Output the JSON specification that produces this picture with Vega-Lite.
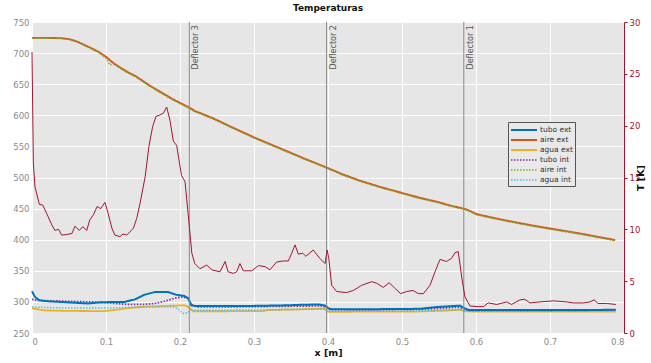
{
  "$schema": "https://vega.github.io/schema/vega-lite/v6.json",
  "width": 592,
  "height": 311,
  "autosize": {"type": "none"},
  "padding": {"left": 32, "top": 22, "right": 27, "bottom": 30},
  "background": "white",
  "config": {
    "font": "DejaVu Sans",
    "view": {"fill": "#e6e6e6", "stroke": null},
    "axis": {"gridColor": "white", "gridWidth": 1, "gridOpacity": 1, "labelColor": "#8a8a8a", "labelFontSize": 8.5, "domain": false, "ticks": false, "labelOverlap": false},
    "legend": {"orient": "none", "legendX": 476, "legendY": 100, "symbolType": "M-2.6,0H2.6", "symbolSize": 100, "labelFontSize": 7.5, "labelColor": "#333", "labelOffset": 10, "fillColor": "#e9e9e9", "strokeColor": "#555", "padding": 2, "rowPadding": -0.3, "symbolStrokeWidth": 1.5, "symbolFillColor": "transparent", "symbolOffset": 8}
  },
  "title": {"text": "Temperaturas", "fontSize": 9, "fontWeight": "bold", "color": "#111", "offset": 5, "anchor": "middle"},
  "datasets": {
    "temps": [
      {"x": 0, "T": 724.5, "s": "aire ext"}, {"x": 0.02, "T": 724.5, "s": "aire ext"}, {"x": 0.04, "T": 724, "s": "aire ext"}, {"x": 0.05, "T": 722.5, "s": "aire ext"}, {"x": 0.06, "T": 719, "s": "aire ext"}, {"x": 0.07, "T": 713.5, "s": "aire ext"}, {"x": 0.08, "T": 708, "s": "aire ext"}, {"x": 0.09, "T": 702, "s": "aire ext"}, {"x": 0.1, "T": 694, "s": "aire ext"}, {"x": 0.11, "T": 684, "s": "aire ext"}, {"x": 0.12, "T": 676, "s": "aire ext"}, {"x": 0.13, "T": 669, "s": "aire ext"}, {"x": 0.14, "T": 663, "s": "aire ext"}, {"x": 0.15, "T": 655, "s": "aire ext"}, {"x": 0.16, "T": 647, "s": "aire ext"}, {"x": 0.17, "T": 640, "s": "aire ext"}, {"x": 0.18, "T": 633, "s": "aire ext"}, {"x": 0.19, "T": 626, "s": "aire ext"}, {"x": 0.2, "T": 620, "s": "aire ext"}, {"x": 0.213, "T": 612, "s": "aire ext"}, {"x": 0.22, "T": 607, "s": "aire ext"}, {"x": 0.245, "T": 595, "s": "aire ext"}, {"x": 0.268, "T": 582, "s": "aire ext"}, {"x": 0.3, "T": 564.5, "s": "aire ext"}, {"x": 0.335, "T": 547, "s": "aire ext"}, {"x": 0.367, "T": 531, "s": "aire ext"}, {"x": 0.398, "T": 516, "s": "aire ext"}, {"x": 0.42, "T": 505, "s": "aire ext"}, {"x": 0.443, "T": 495, "s": "aire ext"}, {"x": 0.47, "T": 485, "s": "aire ext"}, {"x": 0.502, "T": 474.5, "s": "aire ext"}, {"x": 0.525, "T": 467, "s": "aire ext"}, {"x": 0.547, "T": 461, "s": "aire ext"}, {"x": 0.565, "T": 455, "s": "aire ext"}, {"x": 0.587, "T": 448.8, "s": "aire ext"}, {"x": 0.601, "T": 441, "s": "aire ext"}, {"x": 0.62, "T": 436, "s": "aire ext"}, {"x": 0.64, "T": 431, "s": "aire ext"}, {"x": 0.673, "T": 423.5, "s": "aire ext"}, {"x": 0.7, "T": 418, "s": "aire ext"}, {"x": 0.7405, "T": 410, "s": "aire ext"}, {"x": 0.765, "T": 404.5, "s": "aire ext"}, {"x": 0.788, "T": 399.5, "s": "aire ext"},
      {"x": 0, "T": 724, "s": "aire int"}, {"x": 0.02, "T": 724, "s": "aire int"}, {"x": 0.04, "T": 723.5, "s": "aire int"}, {"x": 0.05, "T": 722, "s": "aire int"}, {"x": 0.06, "T": 718.5, "s": "aire int"}, {"x": 0.07, "T": 713, "s": "aire int"}, {"x": 0.08, "T": 707, "s": "aire int"}, {"x": 0.09, "T": 701, "s": "aire int"}, {"x": 0.1, "T": 692, "s": "aire int"}, {"x": 0.105, "T": 681, "s": "aire int"}, {"x": 0.11, "T": 683, "s": "aire int"}, {"x": 0.12, "T": 675, "s": "aire int"}, {"x": 0.13, "T": 668, "s": "aire int"}, {"x": 0.14, "T": 662, "s": "aire int"}, {"x": 0.15, "T": 654, "s": "aire int"}, {"x": 0.16, "T": 646, "s": "aire int"}, {"x": 0.17, "T": 639, "s": "aire int"}, {"x": 0.18, "T": 632, "s": "aire int"}, {"x": 0.19, "T": 625, "s": "aire int"}, {"x": 0.2, "T": 619, "s": "aire int"}, {"x": 0.213, "T": 611, "s": "aire int"}, {"x": 0.22, "T": 606, "s": "aire int"}, {"x": 0.245, "T": 594, "s": "aire int"}, {"x": 0.268, "T": 581, "s": "aire int"}, {"x": 0.3, "T": 563.5, "s": "aire int"}, {"x": 0.335, "T": 546, "s": "aire int"}, {"x": 0.367, "T": 530, "s": "aire int"}, {"x": 0.398, "T": 515.5, "s": "aire int"}, {"x": 0.42, "T": 504, "s": "aire int"}, {"x": 0.443, "T": 494, "s": "aire int"}, {"x": 0.47, "T": 484, "s": "aire int"}, {"x": 0.502, "T": 473.5, "s": "aire int"}, {"x": 0.525, "T": 466, "s": "aire int"}, {"x": 0.547, "T": 460, "s": "aire int"}, {"x": 0.565, "T": 454, "s": "aire int"}, {"x": 0.587, "T": 448, "s": "aire int"}, {"x": 0.601, "T": 440, "s": "aire int"}, {"x": 0.62, "T": 435, "s": "aire int"}, {"x": 0.64, "T": 430, "s": "aire int"}, {"x": 0.673, "T": 422.5, "s": "aire int"}, {"x": 0.7, "T": 417, "s": "aire int"}, {"x": 0.7405, "T": 409, "s": "aire int"}, {"x": 0.765, "T": 403.5, "s": "aire int"}, {"x": 0.788, "T": 398.5, "s": "aire int"},
      {"x": 0, "T": 289.5, "s": "agua ext"}, {"x": 0.017, "T": 286.4, "s": "agua ext"}, {"x": 0.05, "T": 285.5, "s": "agua ext"}, {"x": 0.098, "T": 285.2, "s": "agua ext"}, {"x": 0.115, "T": 287.5, "s": "agua ext"}, {"x": 0.13, "T": 290, "s": "agua ext"}, {"x": 0.15, "T": 292, "s": "agua ext"}, {"x": 0.175, "T": 293.4, "s": "agua ext"}, {"x": 0.206, "T": 294.5, "s": "agua ext"}, {"x": 0.211, "T": 292, "s": "agua ext"}, {"x": 0.2176, "T": 285, "s": "agua ext"}, {"x": 0.265, "T": 285, "s": "agua ext"}, {"x": 0.312, "T": 285.2, "s": "agua ext"}, {"x": 0.32, "T": 287, "s": "agua ext"}, {"x": 0.36, "T": 288, "s": "agua ext"}, {"x": 0.389, "T": 289, "s": "agua ext"}, {"x": 0.396, "T": 289, "s": "agua ext"}, {"x": 0.4, "T": 284, "s": "agua ext"}, {"x": 0.45, "T": 284.3, "s": "agua ext"}, {"x": 0.52, "T": 284.5, "s": "agua ext"}, {"x": 0.56, "T": 286, "s": "agua ext"}, {"x": 0.578, "T": 287.5, "s": "agua ext"}, {"x": 0.586, "T": 285, "s": "agua ext"}, {"x": 0.6, "T": 284.3, "s": "agua ext"}, {"x": 0.7, "T": 284.3, "s": "agua ext"}, {"x": 0.789, "T": 284.5, "s": "agua ext"},
      {"x": 0, "T": 291.8, "s": "agua int"}, {"x": 0.04, "T": 290.2, "s": "agua int"}, {"x": 0.105, "T": 290.2, "s": "agua int"}, {"x": 0.152, "T": 291.8, "s": "agua int"}, {"x": 0.193, "T": 291.8, "s": "agua int"}, {"x": 0.1995, "T": 286.4, "s": "agua int"}, {"x": 0.204, "T": 281.5, "s": "agua int"}, {"x": 0.21, "T": 282.6, "s": "agua int"}, {"x": 0.2153, "T": 286.4, "s": "agua int"}, {"x": 0.226, "T": 286.4, "s": "agua int"}, {"x": 0.3, "T": 287, "s": "agua int"}, {"x": 0.39, "T": 288.5, "s": "agua int"}, {"x": 0.398, "T": 288.5, "s": "agua int"}, {"x": 0.403, "T": 285.5, "s": "agua int"}, {"x": 0.5, "T": 285.5, "s": "agua int"}, {"x": 0.57, "T": 287.5, "s": "agua int"}, {"x": 0.584, "T": 286.5, "s": "agua int"}, {"x": 0.59, "T": 285.5, "s": "agua int"}, {"x": 0.7, "T": 285.5, "s": "agua int"}, {"x": 0.789, "T": 286, "s": "agua int"},
      {"x": 0, "T": 304, "s": "tubo int"}, {"x": 0.008, "T": 302.5, "s": "tubo int"}, {"x": 0.04, "T": 301.3, "s": "tubo int"}, {"x": 0.085, "T": 299.8, "s": "tubo int"}, {"x": 0.13, "T": 296, "s": "tubo int"}, {"x": 0.15, "T": 296, "s": "tubo int"}, {"x": 0.166, "T": 297.5, "s": "tubo int"}, {"x": 0.179, "T": 301, "s": "tubo int"}, {"x": 0.193, "T": 306, "s": "tubo int"}, {"x": 0.204, "T": 308, "s": "tubo int"}, {"x": 0.211, "T": 305.5, "s": "tubo int"}, {"x": 0.2153, "T": 295.5, "s": "tubo int"}, {"x": 0.224, "T": 292, "s": "tubo int"}, {"x": 0.26, "T": 292, "s": "tubo int"}, {"x": 0.3, "T": 292.3, "s": "tubo int"}, {"x": 0.35, "T": 293, "s": "tubo int"}, {"x": 0.39, "T": 293.5, "s": "tubo int"}, {"x": 0.398, "T": 292, "s": "tubo int"}, {"x": 0.403, "T": 288, "s": "tubo int"}, {"x": 0.45, "T": 287.5, "s": "tubo int"}, {"x": 0.5, "T": 287.8, "s": "tubo int"}, {"x": 0.53, "T": 288.5, "s": "tubo int"}, {"x": 0.555, "T": 290, "s": "tubo int"}, {"x": 0.575, "T": 291.5, "s": "tubo int"}, {"x": 0.584, "T": 289, "s": "tubo int"}, {"x": 0.59, "T": 286.5, "s": "tubo int"}, {"x": 0.65, "T": 286.5, "s": "tubo int"}, {"x": 0.7, "T": 286.5, "s": "tubo int"}, {"x": 0.75, "T": 286.5, "s": "tubo int"}, {"x": 0.789, "T": 286.8, "s": "tubo int"},
      {"x": 0, "T": 317, "s": "tubo ext"}, {"x": 0.004, "T": 308, "s": "tubo ext"}, {"x": 0.01, "T": 302.5, "s": "tubo ext"}, {"x": 0.02, "T": 301, "s": "tubo ext"}, {"x": 0.04, "T": 299.8, "s": "tubo ext"}, {"x": 0.06, "T": 298.5, "s": "tubo ext"}, {"x": 0.076, "T": 297.5, "s": "tubo ext"}, {"x": 0.094, "T": 299.5, "s": "tubo ext"}, {"x": 0.11, "T": 299.8, "s": "tubo ext"}, {"x": 0.125, "T": 300, "s": "tubo ext"}, {"x": 0.139, "T": 304, "s": "tubo ext"}, {"x": 0.152, "T": 311.5, "s": "tubo ext"}, {"x": 0.166, "T": 315.8, "s": "tubo ext"}, {"x": 0.176, "T": 316, "s": "tubo ext"}, {"x": 0.184, "T": 315.8, "s": "tubo ext"}, {"x": 0.195, "T": 311.5, "s": "tubo ext"}, {"x": 0.206, "T": 309.5, "s": "tubo ext"}, {"x": 0.211, "T": 306, "s": "tubo ext"}, {"x": 0.2153, "T": 294.5, "s": "tubo ext"}, {"x": 0.22, "T": 293.4, "s": "tubo ext"}, {"x": 0.25, "T": 293.4, "s": "tubo ext"}, {"x": 0.3, "T": 293.6, "s": "tubo ext"}, {"x": 0.344, "T": 294.5, "s": "tubo ext"}, {"x": 0.367, "T": 295.5, "s": "tubo ext"}, {"x": 0.389, "T": 295.8, "s": "tubo ext"}, {"x": 0.396, "T": 294, "s": "tubo ext"}, {"x": 0.401, "T": 289.5, "s": "tubo ext"}, {"x": 0.405, "T": 288.2, "s": "tubo ext"}, {"x": 0.45, "T": 288.3, "s": "tubo ext"}, {"x": 0.5, "T": 288.5, "s": "tubo ext"}, {"x": 0.525, "T": 289, "s": "tubo ext"}, {"x": 0.545, "T": 291.5, "s": "tubo ext"}, {"x": 0.565, "T": 293, "s": "tubo ext"}, {"x": 0.578, "T": 294, "s": "tubo ext"}, {"x": 0.584, "T": 290, "s": "tubo ext"}, {"x": 0.59, "T": 287, "s": "tubo ext"}, {"x": 0.62, "T": 286.8, "s": "tubo ext"}, {"x": 0.65, "T": 287, "s": "tubo ext"}, {"x": 0.7, "T": 286.8, "s": "tubo ext"}, {"x": 0.75, "T": 286.8, "s": "tubo ext"}, {"x": 0.789, "T": 287.5, "s": "tubo ext"}
    ],
    "dT": [
      {"x": 0, "dT": 27.1}, {"x": 0.0018, "dT": 16.4}, {"x": 0.004, "dT": 14.1}, {"x": 0.01, "dT": 12.4}, {"x": 0.0144, "dT": 12.35}, {"x": 0.02, "dT": 11.5}, {"x": 0.027, "dT": 10.4}, {"x": 0.031, "dT": 9.9}, {"x": 0.036, "dT": 10.0}, {"x": 0.04, "dT": 9.45}, {"x": 0.047, "dT": 9.5}, {"x": 0.054, "dT": 9.6}, {"x": 0.058, "dT": 10.3}, {"x": 0.064, "dT": 9.9}, {"x": 0.0685, "dT": 10.25}, {"x": 0.074, "dT": 9.9}, {"x": 0.078, "dT": 10.9}, {"x": 0.083, "dT": 11.4}, {"x": 0.088, "dT": 12.2}, {"x": 0.093, "dT": 12.0}, {"x": 0.0986, "dT": 12.6}, {"x": 0.103, "dT": 11.5}, {"x": 0.108, "dT": 10.1}, {"x": 0.112, "dT": 9.45}, {"x": 0.119, "dT": 9.3}, {"x": 0.123, "dT": 9.55}, {"x": 0.128, "dT": 9.45}, {"x": 0.137, "dT": 10.1}, {"x": 0.1415, "dT": 11.05}, {"x": 0.146, "dT": 12.5}, {"x": 0.153, "dT": 15.1}, {"x": 0.158, "dT": 18.0}, {"x": 0.163, "dT": 19.9}, {"x": 0.1676, "dT": 20.9}, {"x": 0.172, "dT": 21.0}, {"x": 0.1775, "dT": 21.2}, {"x": 0.182, "dT": 21.8}, {"x": 0.1865, "dT": 20.5}, {"x": 0.191, "dT": 18.5}, {"x": 0.1955, "dT": 18.1}, {"x": 0.202, "dT": 15.2}, {"x": 0.2068, "dT": 14.6}, {"x": 0.211, "dT": 11.5}, {"x": 0.216, "dT": 7.7}, {"x": 0.22, "dT": 6.7}, {"x": 0.227, "dT": 6.2}, {"x": 0.236, "dT": 6.55}, {"x": 0.243, "dT": 6.1}, {"x": 0.254, "dT": 5.9}, {"x": 0.261, "dT": 6.9}, {"x": 0.265, "dT": 5.9}, {"x": 0.272, "dT": 5.75}, {"x": 0.2766, "dT": 5.9}, {"x": 0.281, "dT": 6.7}, {"x": 0.2856, "dT": 6.0}, {"x": 0.297, "dT": 6.0}, {"x": 0.306, "dT": 6.5}, {"x": 0.315, "dT": 6.4}, {"x": 0.3216, "dT": 6.1}, {"x": 0.3306, "dT": 6.85}, {"x": 0.3396, "dT": 6.95}, {"x": 0.3464, "dT": 6.95}, {"x": 0.351, "dT": 7.7}, {"x": 0.3554, "dT": 8.5}, {"x": 0.36, "dT": 7.6}, {"x": 0.3658, "dT": 7.7}, {"x": 0.37, "dT": 7.4}, {"x": 0.38, "dT": 8.0}, {"x": 0.389, "dT": 7.2}, {"x": 0.396, "dT": 6.7}, {"x": 0.399, "dT": 8.0}, {"x": 0.401, "dT": 7.2}, {"x": 0.405, "dT": 4.6}, {"x": 0.4118, "dT": 4.0}, {"x": 0.425, "dT": 3.9}, {"x": 0.4342, "dT": 4.1}, {"x": 0.4455, "dT": 4.6}, {"x": 0.459, "dT": 4.95}, {"x": 0.4658, "dT": 4.8}, {"x": 0.4747, "dT": 4.4}, {"x": 0.4828, "dT": 4.85}, {"x": 0.4905, "dT": 4.3}, {"x": 0.4982, "dT": 3.8}, {"x": 0.5063, "dT": 4.0}, {"x": 0.515, "dT": 4.1}, {"x": 0.522, "dT": 3.8}, {"x": 0.529, "dT": 3.8}, {"x": 0.5378, "dT": 4.6}, {"x": 0.5446, "dT": 5.9}, {"x": 0.5514, "dT": 7.1}, {"x": 0.56, "dT": 6.9}, {"x": 0.567, "dT": 7.2}, {"x": 0.5716, "dT": 7.75}, {"x": 0.576, "dT": 7.85}, {"x": 0.5807, "dT": 5.4}, {"x": 0.585, "dT": 3.5}, {"x": 0.592, "dT": 2.6}, {"x": 0.603, "dT": 2.55}, {"x": 0.61, "dT": 2.55}, {"x": 0.6166, "dT": 2.9}, {"x": 0.628, "dT": 2.75}, {"x": 0.6415, "dT": 3.0}, {"x": 0.648, "dT": 2.75}, {"x": 0.6595, "dT": 3.2}, {"x": 0.666, "dT": 3.25}, {"x": 0.673, "dT": 2.9}, {"x": 0.6865, "dT": 3.0}, {"x": 0.7045, "dT": 3.1}, {"x": 0.7225, "dT": 3.0}, {"x": 0.7315, "dT": 2.9}, {"x": 0.745, "dT": 2.9}, {"x": 0.754, "dT": 3.0}, {"x": 0.7595, "dT": 3.2}, {"x": 0.765, "dT": 2.85}, {"x": 0.7766, "dT": 2.85}, {"x": 0.789, "dT": 2.75}
    ],
    "defl": [
      {"x": 0.2126, "label": "Deflector 3"},
      {"x": 0.398, "label": "Deflector 2"},
      {"x": 0.5835, "label": "Deflector 1"}
    ]
  },
  "layer": [
    {
      "encoding": {
        "x": {"field": "x", "type": "quantitative", "scale": {"domain": [0, 0.8], "nice": false}, "axis": {"values": [0, 0.1, 0.2, 0.3, 0.4, 0.5, 0.6, 0.7, 0.8], "title": "x [m]", "titleFontSize": 9.5, "titleFontWeight": "bold", "titleColor": "#111", "labelPadding": 4, "titlePadding": 2, "format": "~g"}}
      },
      "layer": [
        {
          "data": {"name": "temps"},
          "mark": {"type": "line"},
          "encoding": {
            "y": {"field": "T", "type": "quantitative", "scale": {"domain": [250, 750], "nice": false}, "axis": {"values": [250, 300, 350, 400, 450, 500, 550, 600, 650, 700, 750], "title": null, "labelPadding": 3, "labelOverlap": false}},
            "color": {"field": "s", "type": "nominal", "title": null, "scale": {"domain": ["tubo ext", "aire ext", "agua ext", "tubo int", "aire int", "agua int"], "range": ["#0072BD", "#D95319", "#EDB120", "#7E2F8E", "#77AC30", "#4DBEEE"]}},
            "strokeDash": {"field": "s", "type": "nominal", "title": null, "scale": {"domain": ["tubo ext", "aire ext", "agua ext", "tubo int", "aire int", "agua int"], "range": [[1, 0], [1, 0], [1, 0], [1.5, 1.5], [1.5, 1.5], [1.5, 1.5]]}},
            "strokeWidth": {"field": "s", "type": "nominal", "title": null, "scale": {"domain": ["tubo ext", "aire ext", "agua ext", "tubo int", "aire int", "agua int"], "range": [2, 1.5, 1.5, 1.5, 1.5, 1.5]}}
          }
        },
        {
          "data": {"name": "defl"},
          "mark": {"type": "rule", "color": "#8c8c8c", "strokeWidth": 1},
          "encoding": {}
        },
        {
          "data": {"name": "defl"},
          "mark": {"type": "text", "angle": 270, "align": "right", "baseline": "top", "dy": 3, "fontSize": 8, "color": "#555"},
          "encoding": {
            "y": {"datum": 745, "type": "quantitative", "axis": {"values": [250, 300, 350, 400, 450, 500, 550, 600, 650, 700, 750], "title": null, "labelPadding": 3, "labelOverlap": false}},
            "text": {"field": "label", "type": "nominal"}
          }
        }
      ]
    },
    {
      "data": {"name": "dT"},
      "mark": {"type": "line", "color": "#A2142F", "strokeWidth": 1},
      "encoding": {
        "x": {"field": "x", "type": "quantitative"},
        "y": {"field": "dT", "type": "quantitative", "scale": {"domain": [0, 30], "nice": false}, "axis": {"orient": "right", "values": [0, 5, 10, 15, 20, 25, 30], "grid": false, "domain": true, "ticks": true, "tickSize": 3, "domainColor": "#A2142F", "tickColor": "#A2142F", "labelColor": "#A2142F", "labelPadding": 2, "title": "T [K]", "titleAngle": 270, "titleFontSize": 9.5, "titleFontWeight": "bold", "titleColor": "#111", "titlePadding": 6}}
      }
    }
  ],
  "resolve": {"scale": {"y": "independent"}}
}
